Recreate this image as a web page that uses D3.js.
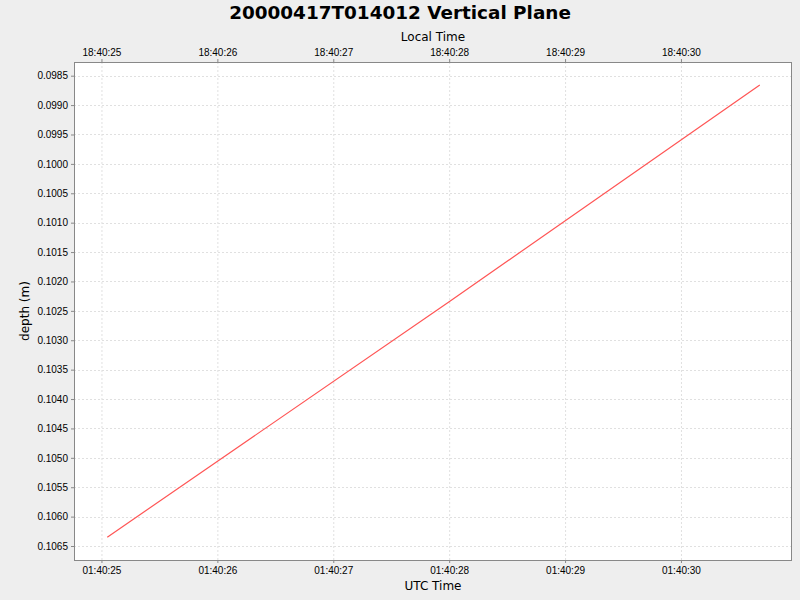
<!DOCTYPE html>
<html>
<head>
<meta charset="utf-8">
<script src="https://cdn.jsdelivr.net/npm/d3@7"></script>
<style>
  body { margin: 0; background: #eeeeee; }
  svg { font-family: "DejaVu Sans", sans-serif; }
  .axis path, .axis line { stroke: #888888; }
  .axis text { font-size: 10px; fill: #000; }
  .grid line { stroke: #e0e0e0; stroke-dasharray: 2,2; }
</style>
</head>
<body>
<svg id="chart"></svg>
<script>
// data (seconds after 01:40:00 UTC, depth in metres)
const titleText = "20000417T014012 Vertical Plane";
const utcSeconds = [25.05, 28.0, 30.68];
const depthValues = [0.10635, 0.102345, 0.09866];
const yTicks = [0.0985, 0.0990, 0.0995, 0.1000, 0.1005, 0.1010, 0.1015, 0.1020, 0.1025,
                0.1030, 0.1035, 0.1040, 0.1045, 0.1050, 0.1055, 0.1060, 0.1065];
const xDomainSec = [24.763, 30.958];
const yDomain = [0.098267, 0.106738];
const localOffsetHours = -7;

const base = Date.UTC(2000, 3, 17, 1, 40, 0);
const toDate = s => new Date(base + s * 1000);
const data = utcSeconds.map((s, i) => ({ t: toDate(s), depth: depthValues[i] }));

const width = 800, height = 600;
const margin = { top: 62, right: 8, bottom: 40, left: 74 };
const innerW = width - margin.left - margin.right;
const innerH = height - margin.top - margin.bottom;

const svg = d3.select("#chart").attr("width", width).attr("height", height);

svg.append("rect").attr("width", width).attr("height", height).attr("fill", "#eeeeee");

svg.append("text")
    .attr("x", width / 2).attr("y", 19)
    .attr("text-anchor", "middle")
    .style("font-size", "18.4px").style("font-weight", "bold")
    .text(titleText);

const chart = svg.append("g")
    .attr("transform", `translate(${margin.left},${margin.top})`);

const xScale = d3.scaleUtc()
    .domain(xDomainSec.map(toDate))
    .range([0, innerW]);

const yScale = d3.scaleLinear()
    .domain(yDomain)
    .range([0, innerH]);

const secTicks = xScale.ticks(d3.utcSecond.every(1));

chart.append("rect")
    .attr("width", innerW).attr("height", innerH)
    .attr("fill", "#ffffff");

// gridlines
chart.append("g").attr("class", "grid")
  .selectAll("line").data(secTicks).join("line")
    .attr("x1", d => xScale(d) + 0.5).attr("x2", d => xScale(d) + 0.5)
    .attr("y1", 0).attr("y2", innerH);

chart.append("g").attr("class", "grid")
  .selectAll("line").data(yTicks).join("line")
    .attr("x1", 0).attr("x2", innerW)
    .attr("y1", d => Math.round(yScale(d)) + 0.5).attr("y2", d => Math.round(yScale(d)) + 0.5);

// line
const line = d3.line()
    .x(d => xScale(d.t))
    .y(d => yScale(d.depth));

chart.append("path")
    .datum(data)
    .attr("d", line)
    .attr("fill", "none")
    .attr("stroke", "#ff5555")
    .attr("stroke-width", 1.2);

// plot outline
chart.append("rect")
    .attr("x", 0.5).attr("y", 0.5)
    .attr("width", innerW - 1).attr("height", innerH)
    .attr("fill", "none").attr("stroke", "#888888");

// axes
const fmt = d3.utcFormat("%H:%M:%S");
const xAxisBottom = d3.axisBottom(xScale).tickValues(secTicks)
    .tickFormat(fmt).tickSize(3).tickSizeOuter(0).tickPadding(4);
const xAxisTop = d3.axisTop(xScale).tickValues(secTicks)
    .tickFormat(d => fmt(d3.utcHour.offset(d, localOffsetHours)))
    .tickSize(3).tickSizeOuter(0).tickPadding(3);
const yAxis = d3.axisLeft(yScale).tickValues(yTicks)
    .tickFormat(d3.format(".4f")).tickSize(3).tickSizeOuter(0).tickPadding(3);

chart.append("g").attr("class", "axis")
    .attr("transform", `translate(0,${innerH})`).call(xAxisBottom)
    .call(g => g.select(".domain").remove());
chart.append("g").attr("class", "axis").call(xAxisTop)
    .call(g => g.select(".domain").remove());
chart.append("g").attr("class", "axis").call(yAxis)
    .call(g => g.select(".domain").remove());

// axis labels
svg.append("text")
    .attr("x", margin.left + innerW / 2).attr("y", 41)
    .attr("text-anchor", "middle").style("font-size", "12px")
    .text("Local Time");

svg.append("text")
    .attr("x", margin.left + innerW / 2).attr("y", 590)
    .attr("text-anchor", "middle").style("font-size", "12px")
    .text("UTC Time");

svg.append("text")
    .attr("transform", `translate(29,${margin.top + innerH / 2}) rotate(-90)`)
    .attr("text-anchor", "middle").style("font-size", "12px")
    .text("depth (m)");
</script>
</body>
</html>
